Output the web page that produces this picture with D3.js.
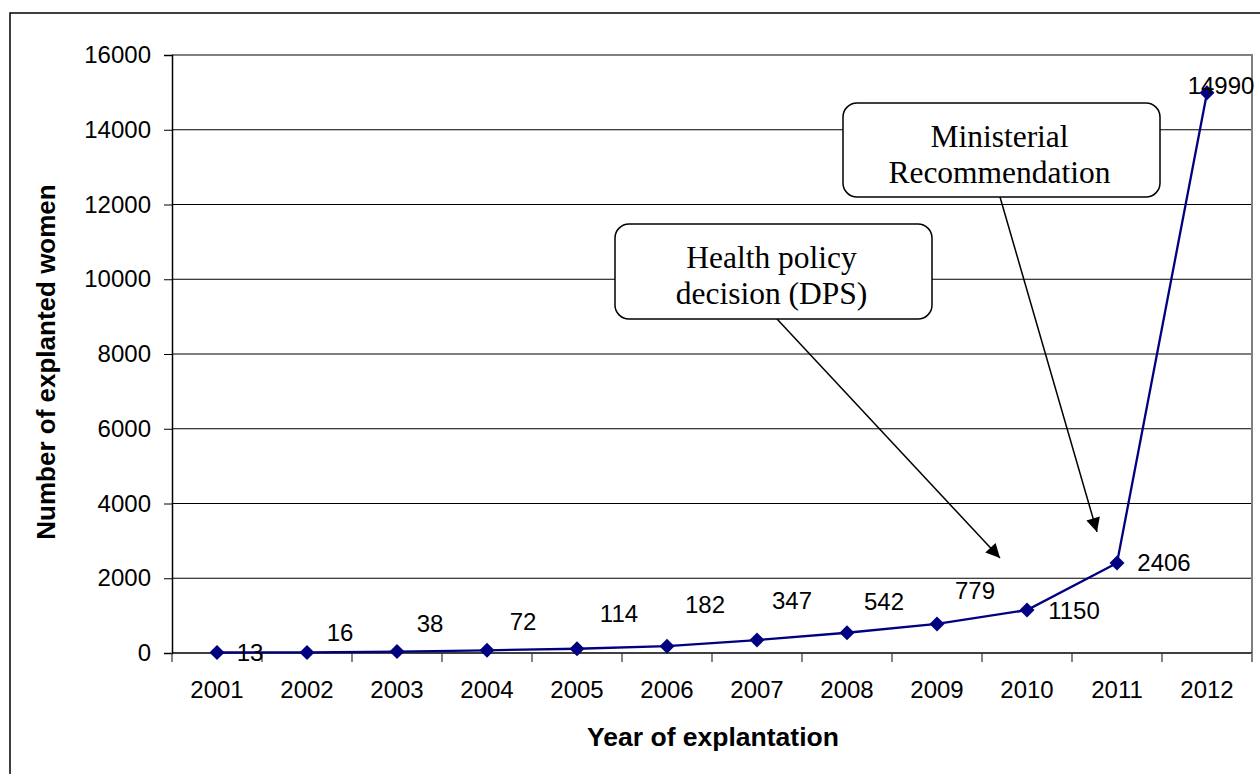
<!DOCTYPE html>
<html>
<head>
<meta charset="utf-8">
<script src="https://cdn.jsdelivr.net/npm/d3@7/dist/d3.min.js"></script>
<style>
  html, body { margin: 0; padding: 0; background: #fff; }
  svg { display: block; }
</style>
</head>
<body>
<svg id="chart" width="1260" height="774"></svg>
<script>
// Explanted women per year
const years = ["2001", "2002", "2003", "2004", "2005", "2006", "2007", "2008", "2009", "2010", "2011", "2012"];
const explanted = [13, 16, 38, 72, 114, 182, 347, 542, 779, 1150, 2406, 14990];
const yTicks = [0, 2000, 4000, 6000, 8000, 10000, 12000, 14000, 16000];

// Callout boxes with arrows pointing into the plot
const calloutLines = [["Health policy", "decision (DPS)"], ["Ministerial", "Recommendation"]];

// Hand-placed nudges for the value labels (pixels from each marker)
const labelNudge = [[33, 0], [33, -20], [33, -28], [36, -29], [42, -35], [38, -42], [35, -40],
                    [37, -31], [38, -34], [47, 0], [47, -1], [14, -7]];

const svg = d3.select("#chart");
const W = 1260, H = 774;
const plot = { left: 172, right: 1252, top: 55, bottom: 653 };

const x = d3.scaleBand().domain(years).range([plot.left, plot.right]).paddingInner(0).paddingOuter(0);
const y = d3.scaleLinear().domain([0, 16000]).range([plot.bottom, plot.top]);
const cx = d => x(d) + x.bandwidth() / 2;

// Outer chart frame
svg.append("rect")
  .attr("x", 10).attr("y", 13).attr("width", W + 20).attr("height", H + 20)
  .attr("fill", "#fff").attr("stroke", "#000").attr("stroke-width", 1.5);

// Horizontal gridlines
svg.append("g")
  .selectAll("line")
  .data(yTicks.filter(t => t > 0 && t < 16000))
  .join("line")
  .attr("x1", plot.left).attr("x2", plot.right)
  .attr("y1", d => y(d)).attr("y2", d => y(d))
  .attr("stroke", "#000").attr("stroke-width", 1);

// Plot area border (top and right)
svg.append("path")
  .attr("d", `M${plot.left},${plot.top}H${plot.right}V${plot.bottom}`)
  .attr("fill", "none").attr("stroke", "#808080").attr("stroke-width", 2);

// Y axis
const yAxis = svg.append("g")
  .attr("transform", `translate(${plot.left},0)`)
  .call(d3.axisLeft(y).tickValues(yTicks).tickSize(8).tickPadding(13).tickFormat(d3.format("d")));
yAxis.select(".domain").attr("stroke", "#000").attr("stroke-width", 1.5);
yAxis.selectAll(".tick line").attr("stroke", "#000");
yAxis.selectAll(".tick text")
  .attr("font-family", "Arial, 'Liberation Sans', sans-serif")
  .attr("font-size", 24).attr("fill", "#000");

// X axis: ticks at the category boundaries
const xAxis = svg.append("g").attr("transform", `translate(0,${plot.bottom})`);
xAxis.append("line")
  .attr("x1", plot.left).attr("x2", plot.right)
  .attr("stroke", "#000").attr("stroke-width", 1.5);
const boundaries = years.map(d => x(d)).concat([x(years[years.length - 1]) + x.bandwidth()]);
xAxis.selectAll("line.tk")
  .data(boundaries)
  .join("line").attr("class", "tk")
  .attr("x1", d => d).attr("x2", d => d)
  .attr("y1", 0).attr("y2", 9)
  .attr("stroke", (d, i) => i === boundaries.length - 1 ? "#808080" : "#333")
  .attr("stroke-width", (d, i) => i === boundaries.length - 1 ? 2 : 1.2);
xAxis.selectAll("text")
  .data(years)
  .join("text")
  .attr("x", d => cx(d)).attr("y", 45)
  .attr("text-anchor", "middle")
  .attr("font-family", "Arial, 'Liberation Sans', sans-serif")
  .attr("font-size", 24).attr("fill", "#000")
  .text(d => d);

// Axis titles
svg.append("text")
  .attr("x", (plot.left + plot.right) / 2 + 1).attr("y", 746)
  .attr("text-anchor", "middle")
  .attr("font-family", "Arial, 'Liberation Sans', sans-serif")
  .attr("font-size", 26.5).attr("font-weight", "bold")
  .text("Year of explantation");
svg.append("text")
  .attr("transform", `translate(55,362) rotate(-90)`)
  .attr("text-anchor", "middle")
  .attr("font-family", "Arial, 'Liberation Sans', sans-serif")
  .attr("font-size", 26).attr("font-weight", "bold")
  .text("Number of explanted women");

// Series line
const pts = years.map((d, i) => ({ year: d, value: explanted[i], i }));
svg.append("path")
  .datum(pts)
  .attr("fill", "none").attr("stroke", "#000080").attr("stroke-width", 2.3)
  .attr("d", d3.line().x(d => cx(d.year)).y(d => y(d.value)));

// Diamond markers
svg.append("g")
  .selectAll("path")
  .data(pts)
  .join("path")
  .attr("transform", d => `translate(${cx(d.year)},${y(d.value)})`)
  .attr("d", "M0,-7.5L7.5,0L0,7.5L-7.5,0Z")
  .attr("fill", "#000080");

// Value labels
svg.append("g")
  .selectAll("text")
  .data(pts)
  .join("text")
  .attr("x", d => cx(d.year) + labelNudge[d.i][0])
  .attr("y", d => y(d.value) + labelNudge[d.i][1])
  .attr("dy", "0.36em")
  .attr("text-anchor", "middle")
  .attr("font-family", "Arial, 'Liberation Sans', sans-serif")
  .attr("font-size", 24).attr("fill", "#000")
  .text(d => d.value);

// Arrow head marker
svg.append("defs").append("marker")
  .attr("id", "head")
  .attr("viewBox", "0 0 10 10")
  .attr("refX", 10).attr("refY", 5)
  .attr("markerWidth", 17).attr("markerHeight", 14)
  .attr("markerUnits", "userSpaceOnUse")
  .attr("orient", "auto")
  .append("path").attr("d", "M0,0L10,5L0,10Z").attr("fill", "#000");

// Callouts: box geometry and arrow tips anchored to the plot scales
const callouts = [
  { lines: calloutLines[0], box: [615, 224, 317, 95], from: [777, 319],
    tip: [cx("2010") - 27, y(2406) - 5] },
  { lines: calloutLines[1], box: [843, 103, 317, 94], from: [1000, 197],
    tip: [cx("2011") - 20, y(3240)] }
];
callouts.forEach(c => {
  svg.append("line")
    .attr("x1", c.from[0]).attr("y1", c.from[1])
    .attr("x2", c.tip[0]).attr("y2", c.tip[1])
    .attr("stroke", "#000").attr("stroke-width", 1.5)
    .attr("marker-end", "url(#head)");
  svg.append("rect")
    .attr("x", c.box[0]).attr("y", c.box[1])
    .attr("width", c.box[2]).attr("height", c.box[3])
    .attr("rx", 14).attr("ry", 14)
    .attr("fill", "#fff").attr("stroke", "#000").attr("stroke-width", 1.5);
  const t = svg.append("text")
    .attr("text-anchor", "middle")
    .attr("font-family", "'Times New Roman', 'Liberation Serif', serif")
    .attr("font-size", 31.5).attr("fill", "#000");
  c.lines.forEach((ln, k) => {
    t.append("tspan")
      .attr("x", c.box[0] + c.box[2] / 2 - 2)
      .attr("y", c.box[1] + 44 + k * 36)
      .text(ln);
  });
});
</script>
</body>
</html>
